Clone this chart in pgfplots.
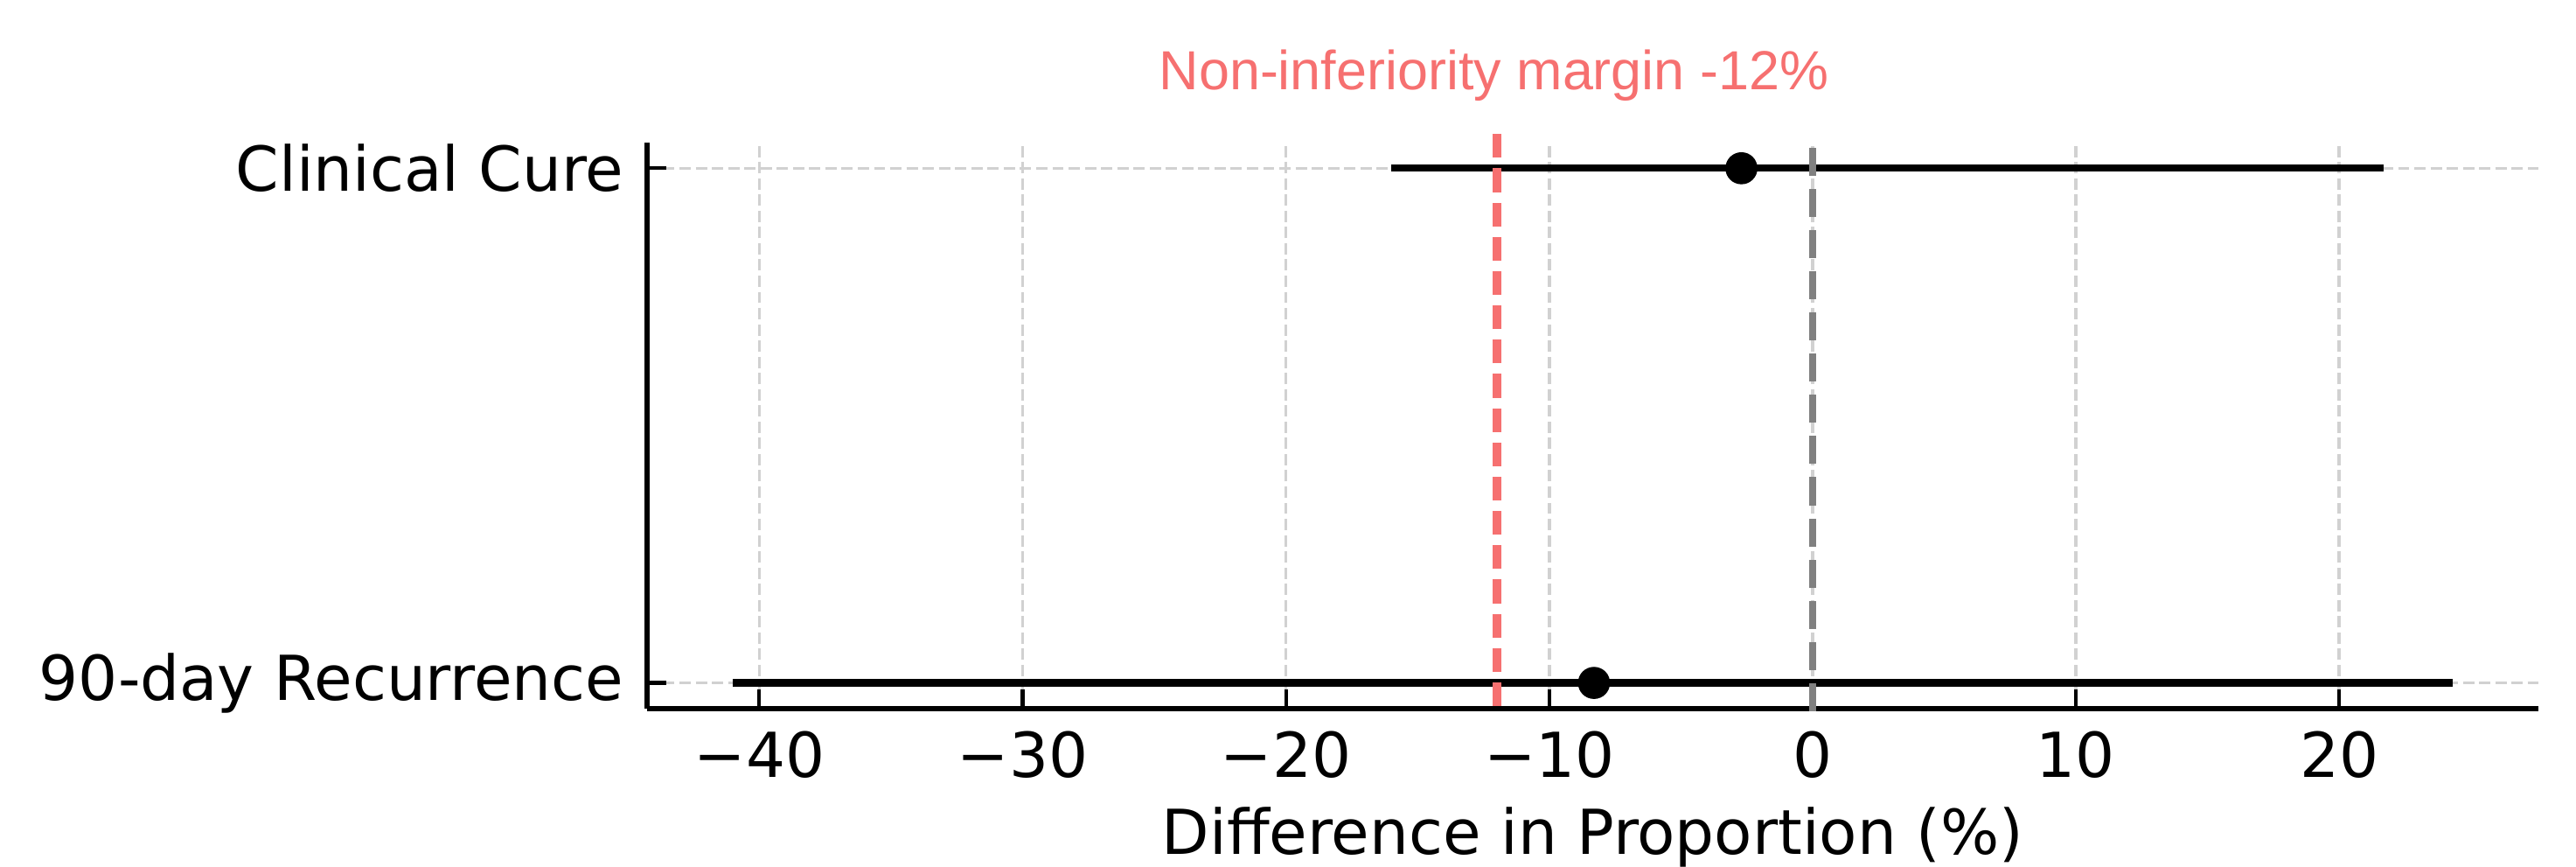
\documentclass[border=0pt]{standalone}
\usepackage{pgfplots}
\pgfplotsset{compat=1.18}
\usepackage{fontspec}
\setmainfont{DejaVu Sans}
\newfontfamily\labelfont{Liberation Sans}
\definecolor{nimred}{RGB}{246,112,112}
\definecolor{zerogray}{RGB}{128,128,128}
\begin{document}
\begin{tikzpicture}
\useasboundingbox (-177.6pt,-43.44pt) rectangle (529.44pt,194.4pt);
\begin{axis}[
  at={(0,0)}, anchor=south west,
  scale only axis, width=519.1pt, height=155.3pt,
  xmin=-44.265, xmax=27.565, ymin=-0.05, ymax=1.05,
  axis lines=left,
  axis line style={-, line width=1.6pt, black},
  tick align=inside,
  major tick length=5.2pt,
  tick style={black, line width=1pt},
  xtick={-40,-30,-20,-10,0,10,20},
  xticklabels={−40,−30,−20,−10,0,10,20},
  ytick={0,1},
  yticklabels={90-day Recurrence, Clinical Cure},
  xticklabel style={font=\fontsize{17}{20}\selectfont, anchor=north, inner sep=0pt, yshift=-6pt},
  yticklabel style={font=\fontsize{17}{20}\selectfont, anchor=east, inner sep=0pt, xshift=-6.2pt},
  xlabel={Difference in Proportion (\%)},
  xlabel style={font=\fontsize{17}{20}\selectfont, at={(axis description cs:0.5,-0.258)}, anchor=base, inner sep=0pt},
  grid=major,
  major grid style={black!18, line width=0.84pt, dash pattern=on 3.1pt off 1.35pt},
  clip=false,
]
% confidence intervals
\addplot[black, line width=2pt] coordinates {(-16.0,1) (21.7,1)};
\addplot[black, line width=2pt] coordinates {(-41.0,0) (24.3,0)};
% point estimates
\addplot[only marks, mark=*, mark size=4.2pt, black] coordinates {(-2.7,1) (-8.3,0)};
% non-inferiority margin
\addplot[nimred, line width=2.4pt, dash pattern=on 6.5pt off 2.9pt] coordinates {(-12,-0.045) (-12,1.076)};
% zero line
\addplot[zerogray, line width=1.9pt, dash pattern=on 7.7pt off 3.6pt] coordinates {(0,-0.055) (0,1.05)};
\node[nimred, anchor=base, inner sep=0pt, font=\labelfont\fontsize{15.1}{18}\selectfont] at (axis cs:-12.1,1.152) {Non-inferiority margin -12\%};
\end{axis}
\end{tikzpicture}
\end{document}
